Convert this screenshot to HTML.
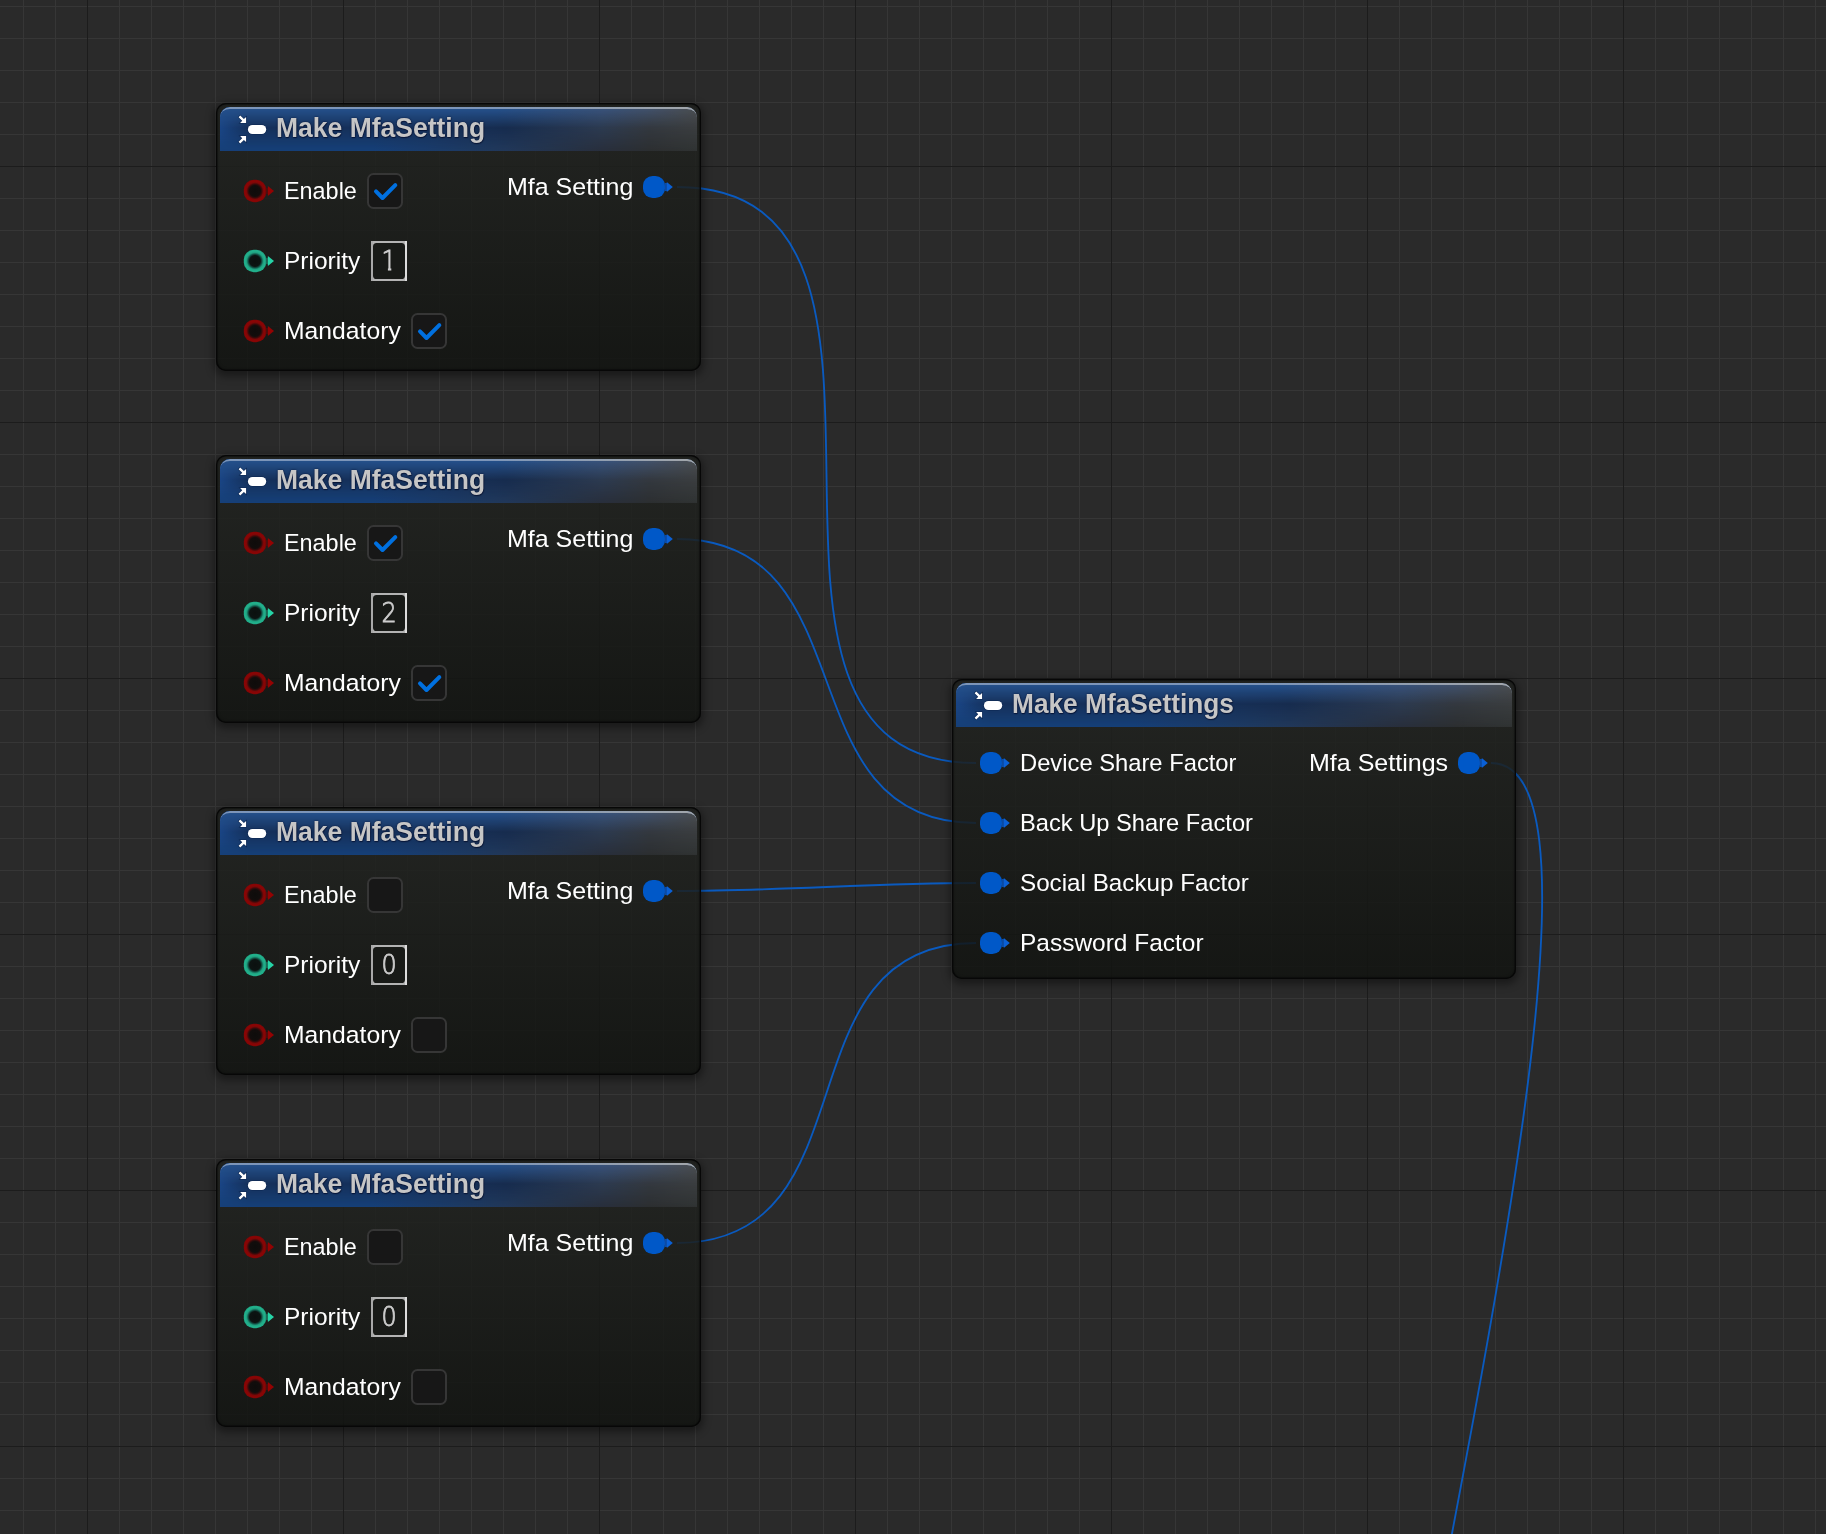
<!DOCTYPE html><html><head><meta charset="utf-8"><title>Blueprint</title><style>
html,body{margin:0;padding:0}
body{width:1826px;height:1534px;overflow:hidden;position:relative;background-color:#2a2a2a;
background-image:linear-gradient(90deg,#1c1c1c 1px,transparent 1px),linear-gradient(#1c1c1c 1px,transparent 1px),linear-gradient(90deg,#363636 1px,transparent 1px),linear-gradient(#363636 1px,transparent 1px);
background-size:256px 256px,256px 256px,32px 32px,32px 32px;
background-position:87px 0,0 166px,23px 0,0 6px;
font-family:"Liberation Sans",sans-serif}
.wires{position:absolute;left:0;top:0}
.wires path{fill:none;stroke:#0a5abf;stroke-width:1.85}
.node{position:absolute;box-sizing:border-box;border-radius:10px;
background:linear-gradient(180deg,rgba(31,33,30,.85) 0,rgba(31,33,30,.85) 48px,rgba(17,19,16,.85) 100%);
box-shadow:inset 0 0 0 1.25px #070707,inset 0 0 3px 1px rgba(0,0,0,.55),0 3px 9px 2px rgba(0,0,0,.42)}
.hd{position:absolute;left:4.2px;top:3.9px;right:4.5px;height:44px;border-radius:10px 10px 0 0;overflow:hidden;
background:linear-gradient(90deg,#164079 0,#164079 32%,#21385a 60%,#282f3c 80%,#2c2f31 90%,#303333 100%)}
.hm,.ht,.hl{position:absolute;left:0;right:0;top:0}
.hm{height:44px;background:linear-gradient(90deg,#1a4585 0,#15305a 6%,#15305a 45%,#172c4e 60%,#2c3a50 80%,#33383f 90%,#3a3d3f 100%);
-webkit-mask-image:linear-gradient(180deg,#000 0,#000 21px,transparent 44px);mask-image:linear-gradient(180deg,#000 0,#000 21px,transparent 44px)}
.ht{height:24px;background:linear-gradient(90deg,#25508a 0,#25508a 58%,#38527a 80%,#41516a 90%,#4a4d50 100%);
-webkit-mask-image:linear-gradient(180deg,#000 0,#000 2px,transparent 21px);mask-image:linear-gradient(180deg,#000 0,#000 2px,transparent 21px)}
.hl,.hl2{height:20px;box-sizing:border-box;border-top:2px solid #7c95b9;border-radius:10px 10px 0 0}
.hl2{position:absolute;left:0;right:0;top:0;border-top-width:2.5px;border-top-color:#a2a6aa;-webkit-mask-image:linear-gradient(90deg,transparent 55%,#000 100%);mask-image:linear-gradient(90deg,transparent 55%,#000 100%)}
.t{position:absolute;white-space:nowrap;line-height:40px;transform-origin:0 50%}
.tt{text-shadow:0 0 2px rgba(0,10,40,.8),.5px 1px 1px rgba(0,8,35,.6)}
.pin,.ico{position:absolute}
.pin{filter:blur(.6px)}
.cb{position:absolute;box-sizing:border-box;width:36px;height:36px;border:2px solid #363636;border-radius:6.5px;background:#171717}
.nb{position:absolute;box-sizing:border-box;width:36px;height:40px;background:linear-gradient(90deg,#a9a9a9 0,#a9a9a9 5%,#b3b3b3 6%,#b3b3b3 94%,#dcdcdc 95.5%);text-align:center}
.nv{position:absolute;top:0;width:36px;margin-left:0;display:block;font-family:"DejaVu Sans","Liberation Sans",sans-serif;font-weight:200;font-size:26.3px;line-height:40.2px;color:#cdcdcd;-webkit-text-stroke:.85px #cdcdcd;transform:scaleX(.905)}
.nbi{position:absolute;left:2px;top:2px;right:2px;bottom:2px;border-radius:3.6px;background:#181a17}
</style></head><body><svg width="0" height="0" style="position:absolute"><defs>
<radialGradient id="gb" cx="0" cy="0" r="11.6" gradientUnits="userSpaceOnUse"><stop offset="0" stop-color="#0e0c0b"/><stop offset=".47" stop-color="#120d0c"/><stop offset=".60" stop-color="#3e0a0a"/><stop offset=".72" stop-color="#7d0707"/><stop offset=".86" stop-color="#8c0404"/><stop offset="1" stop-color="#7e0606"/></radialGradient>
<radialGradient id="gi" cx="0" cy="0" r="11.6" gradientUnits="userSpaceOnUse"><stop offset="0" stop-color="#0b100f"/><stop offset=".47" stop-color="#0c1412"/><stop offset=".60" stop-color="#13564a"/><stop offset=".72" stop-color="#1fa07f"/><stop offset=".86" stop-color="#22b28d"/><stop offset="1" stop-color="#20a885"/></radialGradient>
</defs></svg><svg class="wires" width="1826" height="1534" viewBox="0 0 1826 1534"><path d="M677 187 C968.7 187 684.3 763 976 763"/><path d="M677 539 C871.3 539 781.7 823 976 823"/><path d="M677 891 C779.3 891 873.7 883 976 883"/><path d="M677 1243 C876.7 1243 776.3 943 976 943"/><path d="M1491 763 C1709.7 763 1143.1 2572 1361.8 2572"/></svg><div class="node" style="left:216px;top:103px;width:485px;height:268px"><div class="hd"><div class="hm"></div><div class="ht"></div><div class="hl"></div><div class="hl2"></div></div><svg class="ico" style="left:16px;top:7px" width="40" height="40" viewBox="0 0 40 40"><g fill="#fff" stroke="#0b2550" stroke-width="1.2" paint-order="stroke"><rect x="15.9" y="15" width="18.3" height="9" rx="4.5"/><path d="M14.1 7 L14.1 12.9 L8.1 12.9 L10.2 10.8 L6.6 7.2 L8.3 5.5 L11.9 9.1 Z"/><path d="M14.1 32 L14.1 26.1 L8.1 26.1 L10.2 28.2 L6.6 31.8 L8.3 33.5 L11.9 29.9 Z"/></g></svg><div class="t tt" style="left:59.79px;top:5.44px;font-size:27.3px;font-weight:700;color:#c6c6c6;transform:scaleX(0.9709);">Make MfaSetting</div><svg class="pin" style="left:25px;top:74px" width="38" height="28" viewBox="-14 -14 38 28"><rect x="-11.2" y="-11.2" width="22.4" height="22.4" rx="9.8" fill="url(#gb)"/><rect x="10.6" y="-3.2" width="2.6" height="6.4" fill="#5a0c0c" opacity=".75"/><path d="M12.9 -5 L19 0 L12.9 5 Z" fill="#930303"/></svg><div class="t" style="left:68.17px;top:67.92px;font-size:23.9px;font-weight:400;color:#fff;transform:scaleX(0.9791);">Enable</div><div class="cb" style="left:151px;top:70px"><svg width="36" height="36" viewBox="0 0 36 36" style="position:absolute;left:-2px;top:-2px"><path d="M9 18.4 L15.5 25 L28.3 12.2" fill="none" stroke="#0070e0" stroke-width="4" stroke-linecap="round" stroke-linejoin="round"/></svg></div><svg class="pin" style="left:25px;top:144px" width="38" height="28" viewBox="-14 -14 38 28"><rect x="-11.2" y="-11.2" width="22.4" height="22.4" rx="9.8" fill="url(#gi)"/><rect x="10.6" y="-3.2" width="2.6" height="6.4" fill="#1c7a63" opacity=".75"/><path d="M12.9 -5 L19 0 L12.9 5 Z" fill="#26d4a7"/></svg><div class="t" style="left:68.09px;top:137.92px;font-size:23.9px;font-weight:400;color:#fff;transform:scaleX(1.0262);">Priority</div><div class="nb" style="left:155px;top:138px"><div class="nbi"></div><span class="nv" style="left:-0.4px;clip-path:polygon(0 0,36px 0,36px 26.4px,20.55px 26.4px,20.55px 40px,16.8px 40px,16.8px 26.4px,0 26.4px)">1</span></div><svg class="pin" style="left:25px;top:214px" width="38" height="28" viewBox="-14 -14 38 28"><rect x="-11.2" y="-11.2" width="22.4" height="22.4" rx="9.8" fill="url(#gb)"/><rect x="10.6" y="-3.2" width="2.6" height="6.4" fill="#5a0c0c" opacity=".75"/><path d="M12.9 -5 L19 0 L12.9 5 Z" fill="#930303"/></svg><div class="t" style="left:67.77px;top:207.92px;font-size:23.9px;font-weight:400;color:#fff;transform:scaleX(1.0345);">Mandatory</div><div class="cb" style="left:195px;top:210px"><svg width="36" height="36" viewBox="0 0 36 36" style="position:absolute;left:-2px;top:-2px"><path d="M9 18.4 L15.5 25 L28.3 12.2" fill="none" stroke="#0070e0" stroke-width="4" stroke-linecap="round" stroke-linejoin="round"/></svg></div><div class="t" style="left:290.95px;top:63.92px;font-size:23.9px;font-weight:400;color:#fff;transform:scaleX(1.0460);">Mfa Setting</div><svg class="pin" style="left:424px;top:70px" width="38" height="28" viewBox="-14 -14 38 28"><rect x="-11" y="-11" width="22" height="22" rx="9.6" fill="#0058c8"/><rect x="10.5" y="-4" width="3" height="8" fill="#0a50b4" opacity=".9"/><path d="M12.8 -5 L18.8 0 L12.8 5 Z" fill="#0a60d6"/></svg></div><div class="node" style="left:216px;top:455px;width:485px;height:268px"><div class="hd"><div class="hm"></div><div class="ht"></div><div class="hl"></div><div class="hl2"></div></div><svg class="ico" style="left:16px;top:7px" width="40" height="40" viewBox="0 0 40 40"><g fill="#fff" stroke="#0b2550" stroke-width="1.2" paint-order="stroke"><rect x="15.9" y="15" width="18.3" height="9" rx="4.5"/><path d="M14.1 7 L14.1 12.9 L8.1 12.9 L10.2 10.8 L6.6 7.2 L8.3 5.5 L11.9 9.1 Z"/><path d="M14.1 32 L14.1 26.1 L8.1 26.1 L10.2 28.2 L6.6 31.8 L8.3 33.5 L11.9 29.9 Z"/></g></svg><div class="t tt" style="left:59.79px;top:5.44px;font-size:27.3px;font-weight:700;color:#c6c6c6;transform:scaleX(0.9709);">Make MfaSetting</div><svg class="pin" style="left:25px;top:74px" width="38" height="28" viewBox="-14 -14 38 28"><rect x="-11.2" y="-11.2" width="22.4" height="22.4" rx="9.8" fill="url(#gb)"/><rect x="10.6" y="-3.2" width="2.6" height="6.4" fill="#5a0c0c" opacity=".75"/><path d="M12.9 -5 L19 0 L12.9 5 Z" fill="#930303"/></svg><div class="t" style="left:68.17px;top:67.92px;font-size:23.9px;font-weight:400;color:#fff;transform:scaleX(0.9791);">Enable</div><div class="cb" style="left:151px;top:70px"><svg width="36" height="36" viewBox="0 0 36 36" style="position:absolute;left:-2px;top:-2px"><path d="M9 18.4 L15.5 25 L28.3 12.2" fill="none" stroke="#0070e0" stroke-width="4" stroke-linecap="round" stroke-linejoin="round"/></svg></div><svg class="pin" style="left:25px;top:144px" width="38" height="28" viewBox="-14 -14 38 28"><rect x="-11.2" y="-11.2" width="22.4" height="22.4" rx="9.8" fill="url(#gi)"/><rect x="10.6" y="-3.2" width="2.6" height="6.4" fill="#1c7a63" opacity=".75"/><path d="M12.9 -5 L19 0 L12.9 5 Z" fill="#26d4a7"/></svg><div class="t" style="left:68.09px;top:137.92px;font-size:23.9px;font-weight:400;color:#fff;transform:scaleX(1.0262);">Priority</div><div class="nb" style="left:155px;top:138px"><div class="nbi"></div><span class="nv" style="left:0.2px">2</span></div><svg class="pin" style="left:25px;top:214px" width="38" height="28" viewBox="-14 -14 38 28"><rect x="-11.2" y="-11.2" width="22.4" height="22.4" rx="9.8" fill="url(#gb)"/><rect x="10.6" y="-3.2" width="2.6" height="6.4" fill="#5a0c0c" opacity=".75"/><path d="M12.9 -5 L19 0 L12.9 5 Z" fill="#930303"/></svg><div class="t" style="left:67.77px;top:207.92px;font-size:23.9px;font-weight:400;color:#fff;transform:scaleX(1.0345);">Mandatory</div><div class="cb" style="left:195px;top:210px"><svg width="36" height="36" viewBox="0 0 36 36" style="position:absolute;left:-2px;top:-2px"><path d="M9 18.4 L15.5 25 L28.3 12.2" fill="none" stroke="#0070e0" stroke-width="4" stroke-linecap="round" stroke-linejoin="round"/></svg></div><div class="t" style="left:290.95px;top:63.92px;font-size:23.9px;font-weight:400;color:#fff;transform:scaleX(1.0460);">Mfa Setting</div><svg class="pin" style="left:424px;top:70px" width="38" height="28" viewBox="-14 -14 38 28"><rect x="-11" y="-11" width="22" height="22" rx="9.6" fill="#0058c8"/><rect x="10.5" y="-4" width="3" height="8" fill="#0a50b4" opacity=".9"/><path d="M12.8 -5 L18.8 0 L12.8 5 Z" fill="#0a60d6"/></svg></div><div class="node" style="left:216px;top:807px;width:485px;height:268px"><div class="hd"><div class="hm"></div><div class="ht"></div><div class="hl"></div><div class="hl2"></div></div><svg class="ico" style="left:16px;top:7px" width="40" height="40" viewBox="0 0 40 40"><g fill="#fff" stroke="#0b2550" stroke-width="1.2" paint-order="stroke"><rect x="15.9" y="15" width="18.3" height="9" rx="4.5"/><path d="M14.1 7 L14.1 12.9 L8.1 12.9 L10.2 10.8 L6.6 7.2 L8.3 5.5 L11.9 9.1 Z"/><path d="M14.1 32 L14.1 26.1 L8.1 26.1 L10.2 28.2 L6.6 31.8 L8.3 33.5 L11.9 29.9 Z"/></g></svg><div class="t tt" style="left:59.79px;top:5.44px;font-size:27.3px;font-weight:700;color:#c6c6c6;transform:scaleX(0.9709);">Make MfaSetting</div><svg class="pin" style="left:25px;top:74px" width="38" height="28" viewBox="-14 -14 38 28"><rect x="-11.2" y="-11.2" width="22.4" height="22.4" rx="9.8" fill="url(#gb)"/><rect x="10.6" y="-3.2" width="2.6" height="6.4" fill="#5a0c0c" opacity=".75"/><path d="M12.9 -5 L19 0 L12.9 5 Z" fill="#930303"/></svg><div class="t" style="left:68.17px;top:67.92px;font-size:23.9px;font-weight:400;color:#fff;transform:scaleX(0.9791);">Enable</div><div class="cb" style="left:151px;top:70px"></div><svg class="pin" style="left:25px;top:144px" width="38" height="28" viewBox="-14 -14 38 28"><rect x="-11.2" y="-11.2" width="22.4" height="22.4" rx="9.8" fill="url(#gi)"/><rect x="10.6" y="-3.2" width="2.6" height="6.4" fill="#1c7a63" opacity=".75"/><path d="M12.9 -5 L19 0 L12.9 5 Z" fill="#26d4a7"/></svg><div class="t" style="left:68.09px;top:137.92px;font-size:23.9px;font-weight:400;color:#fff;transform:scaleX(1.0262);">Priority</div><div class="nb" style="left:155px;top:138px"><div class="nbi"></div><span class="nv" style="left:0px">0</span></div><svg class="pin" style="left:25px;top:214px" width="38" height="28" viewBox="-14 -14 38 28"><rect x="-11.2" y="-11.2" width="22.4" height="22.4" rx="9.8" fill="url(#gb)"/><rect x="10.6" y="-3.2" width="2.6" height="6.4" fill="#5a0c0c" opacity=".75"/><path d="M12.9 -5 L19 0 L12.9 5 Z" fill="#930303"/></svg><div class="t" style="left:67.77px;top:207.92px;font-size:23.9px;font-weight:400;color:#fff;transform:scaleX(1.0345);">Mandatory</div><div class="cb" style="left:195px;top:210px"></div><div class="t" style="left:290.95px;top:63.92px;font-size:23.9px;font-weight:400;color:#fff;transform:scaleX(1.0460);">Mfa Setting</div><svg class="pin" style="left:424px;top:70px" width="38" height="28" viewBox="-14 -14 38 28"><rect x="-11" y="-11" width="22" height="22" rx="9.6" fill="#0058c8"/><rect x="10.5" y="-4" width="3" height="8" fill="#0a50b4" opacity=".9"/><path d="M12.8 -5 L18.8 0 L12.8 5 Z" fill="#0a60d6"/></svg></div><div class="node" style="left:216px;top:1159px;width:485px;height:268px"><div class="hd"><div class="hm"></div><div class="ht"></div><div class="hl"></div><div class="hl2"></div></div><svg class="ico" style="left:16px;top:7px" width="40" height="40" viewBox="0 0 40 40"><g fill="#fff" stroke="#0b2550" stroke-width="1.2" paint-order="stroke"><rect x="15.9" y="15" width="18.3" height="9" rx="4.5"/><path d="M14.1 7 L14.1 12.9 L8.1 12.9 L10.2 10.8 L6.6 7.2 L8.3 5.5 L11.9 9.1 Z"/><path d="M14.1 32 L14.1 26.1 L8.1 26.1 L10.2 28.2 L6.6 31.8 L8.3 33.5 L11.9 29.9 Z"/></g></svg><div class="t tt" style="left:59.79px;top:5.44px;font-size:27.3px;font-weight:700;color:#c6c6c6;transform:scaleX(0.9709);">Make MfaSetting</div><svg class="pin" style="left:25px;top:74px" width="38" height="28" viewBox="-14 -14 38 28"><rect x="-11.2" y="-11.2" width="22.4" height="22.4" rx="9.8" fill="url(#gb)"/><rect x="10.6" y="-3.2" width="2.6" height="6.4" fill="#5a0c0c" opacity=".75"/><path d="M12.9 -5 L19 0 L12.9 5 Z" fill="#930303"/></svg><div class="t" style="left:68.17px;top:67.92px;font-size:23.9px;font-weight:400;color:#fff;transform:scaleX(0.9791);">Enable</div><div class="cb" style="left:151px;top:70px"></div><svg class="pin" style="left:25px;top:144px" width="38" height="28" viewBox="-14 -14 38 28"><rect x="-11.2" y="-11.2" width="22.4" height="22.4" rx="9.8" fill="url(#gi)"/><rect x="10.6" y="-3.2" width="2.6" height="6.4" fill="#1c7a63" opacity=".75"/><path d="M12.9 -5 L19 0 L12.9 5 Z" fill="#26d4a7"/></svg><div class="t" style="left:68.09px;top:137.92px;font-size:23.9px;font-weight:400;color:#fff;transform:scaleX(1.0262);">Priority</div><div class="nb" style="left:155px;top:138px"><div class="nbi"></div><span class="nv" style="left:0px">0</span></div><svg class="pin" style="left:25px;top:214px" width="38" height="28" viewBox="-14 -14 38 28"><rect x="-11.2" y="-11.2" width="22.4" height="22.4" rx="9.8" fill="url(#gb)"/><rect x="10.6" y="-3.2" width="2.6" height="6.4" fill="#5a0c0c" opacity=".75"/><path d="M12.9 -5 L19 0 L12.9 5 Z" fill="#930303"/></svg><div class="t" style="left:67.77px;top:207.92px;font-size:23.9px;font-weight:400;color:#fff;transform:scaleX(1.0345);">Mandatory</div><div class="cb" style="left:195px;top:210px"></div><div class="t" style="left:290.95px;top:63.92px;font-size:23.9px;font-weight:400;color:#fff;transform:scaleX(1.0460);">Mfa Setting</div><svg class="pin" style="left:424px;top:70px" width="38" height="28" viewBox="-14 -14 38 28"><rect x="-11" y="-11" width="22" height="22" rx="9.6" fill="#0058c8"/><rect x="10.5" y="-4" width="3" height="8" fill="#0a50b4" opacity=".9"/><path d="M12.8 -5 L18.8 0 L12.8 5 Z" fill="#0a60d6"/></svg></div><div class="node" style="left:952px;top:679px;width:564px;height:300px"><div class="hd"><div class="hm"></div><div class="ht"></div><div class="hl"></div><div class="hl2"></div></div><svg class="ico" style="left:16px;top:7px" width="40" height="40" viewBox="0 0 40 40"><g fill="#fff" stroke="#0b2550" stroke-width="1.2" paint-order="stroke"><rect x="15.9" y="15" width="18.3" height="9" rx="4.5"/><path d="M14.1 7 L14.1 12.9 L8.1 12.9 L10.2 10.8 L6.6 7.2 L8.3 5.5 L11.9 9.1 Z"/><path d="M14.1 32 L14.1 26.1 L8.1 26.1 L10.2 28.2 L6.6 31.8 L8.3 33.5 L11.9 29.9 Z"/></g></svg><div class="t tt" style="left:59.81px;top:5.44px;font-size:27.3px;font-weight:700;color:#c6c6c6;transform:scaleX(0.9625);">Make MfaSettings</div><svg class="pin" style="left:25px;top:70px" width="38" height="28" viewBox="-14 -14 38 28"><rect x="-11" y="-11" width="22" height="22" rx="9.6" fill="#0058c8"/><rect x="10.5" y="-4" width="3" height="8" fill="#0a50b4" opacity=".9"/><path d="M12.8 -5 L18.8 0 L12.8 5 Z" fill="#0a60d6"/></svg><div class="t" style="left:67.94px;top:63.92px;font-size:23.9px;font-weight:400;color:#fff;transform:scaleX(0.9942);">Device Share Factor</div><svg class="pin" style="left:25px;top:130px" width="38" height="28" viewBox="-14 -14 38 28"><rect x="-11" y="-11" width="22" height="22" rx="9.6" fill="#0058c8"/><rect x="10.5" y="-4" width="3" height="8" fill="#0a50b4" opacity=".9"/><path d="M12.8 -5 L18.8 0 L12.8 5 Z" fill="#0a60d6"/></svg><div class="t" style="left:67.95px;top:123.92px;font-size:23.9px;font-weight:400;color:#fff;transform:scaleX(0.9911);">Back Up Share Factor</div><svg class="pin" style="left:25px;top:190px" width="38" height="28" viewBox="-14 -14 38 28"><rect x="-11" y="-11" width="22" height="22" rx="9.6" fill="#0058c8"/><rect x="10.5" y="-4" width="3" height="8" fill="#0a50b4" opacity=".9"/><path d="M12.8 -5 L18.8 0 L12.8 5 Z" fill="#0a60d6"/></svg><div class="t" style="left:67.91px;top:183.92px;font-size:23.9px;font-weight:400;color:#fff;transform:scaleX(1.0136);">Social Backup Factor</div><svg class="pin" style="left:25px;top:250px" width="38" height="28" viewBox="-14 -14 38 28"><rect x="-11" y="-11" width="22" height="22" rx="9.6" fill="#0058c8"/><rect x="10.5" y="-4" width="3" height="8" fill="#0a50b4" opacity=".9"/><path d="M12.8 -5 L18.8 0 L12.8 5 Z" fill="#0a60d6"/></svg><div class="t" style="left:67.89px;top:243.92px;font-size:23.9px;font-weight:400;color:#fff;transform:scaleX(1.0241);">Password Factor</div><div class="t" style="left:356.75px;top:63.92px;font-size:23.9px;font-weight:400;color:#fff;transform:scaleX(1.0476);">Mfa Settings</div><svg class="pin" style="left:503px;top:70px" width="38" height="28" viewBox="-14 -14 38 28"><rect x="-11" y="-11" width="22" height="22" rx="9.6" fill="#0058c8"/><rect x="10.5" y="-4" width="3" height="8" fill="#0a50b4" opacity=".9"/><path d="M12.8 -5 L18.8 0 L12.8 5 Z" fill="#0a60d6"/></svg></div></body></html>
